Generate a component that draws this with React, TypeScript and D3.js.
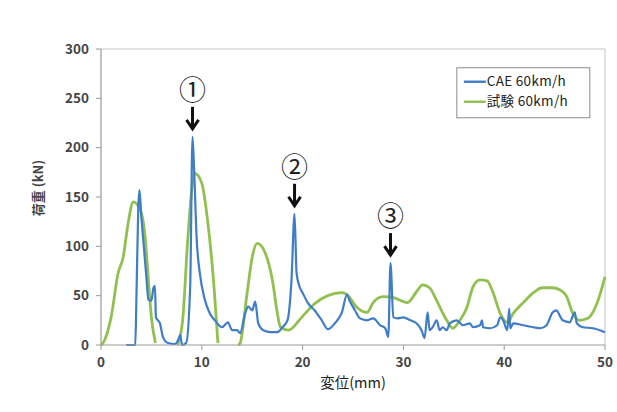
import React from "react";
import * as d3 from "d3";

// CAE 60km/h (blue)
const caeDisp = [2.5, 3.4, 3.5, 3.7, 3.82, 4.0, 4.2, 4.5, 4.7, 5.0, 5.2, 5.35, 5.45, 5.85, 6.15, 6.65, 7.35, 7.65, 7.85, 8.05, 8.45, 8.85, 9.08, 9.25, 9.5, 9.8, 10.3, 10.8, 11.3, 12.0, 12.6, 13.0, 13.5, 13.8, 14.3, 14.6, 15.0, 15.3, 15.6, 16.1, 16.8, 17.5, 18.0, 18.5, 18.9, 19.2, 19.4, 19.7, 20.0, 20.5, 21.2, 21.9, 22.5, 23.2, 23.9, 24.4, 24.7, 25.2, 25.7, 26.4, 27.0, 27.7, 28.2, 28.5, 28.72, 29.0, 29.4, 30.0, 30.7, 31.3, 31.8, 32.1, 32.4, 32.6, 32.9, 33.3, 33.6, 33.9, 34.3, 34.6, 35.3, 35.9, 36.6, 36.9, 37.6, 37.8, 37.9, 38.6, 39.3, 39.6, 39.9, 40.3, 40.5, 40.6, 40.9, 41.9, 42.9, 43.6, 44.2, 44.8, 45.2, 45.5, 45.8, 46.5, 47.0, 47.2, 47.8, 48.8, 50.0];
const caeLoad = [0, 0, 40, 140, 157, 130, 106, 69, 46, 45, 58, 60, 28, 22, 8, 2, 1, 5, 10, 0, 2, 60, 211, 174, 106, 73, 46, 32, 25, 18, 23, 15, 15, 12, 32, 39, 35, 44, 22, 15, 13, 13, 18, 25, 66, 133, 73, 59, 53, 43, 35, 25, 16, 22, 33, 51, 44, 35, 27, 25, 27, 20, 17, 8, 83, 28, 27, 28, 25, 22, 15, 7, 33, 15, 18, 25, 15, 18, 15, 22, 25, 20, 22, 18, 20, 25, 18, 17, 20, 28, 25, 15, 37, 17, 22, 20, 18, 17, 20, 33, 35, 30, 25, 23, 33, 22, 18, 17, 13];

// 試験 60km/h (green), null where the curve leaves the plot below zero
const testDisp = [0, 0.2, 1.0, 1.7, 2.2, 2.7, 3.2, 3.9, 4.4, 4.7, 5.0, 5.4, 6.5, 7.6, 8.1, 8.6, 9.0, 9.3, 10.0, 10.6, 11.1, 11.6, 12.6, 13.6, 13.8, 14.5, 15.0, 15.5, 16.3, 17.0, 17.5, 17.8, 18.6, 19.9, 21.2, 22.5, 23.9, 24.4, 25.4, 26.4, 27.0, 28.0, 29.0, 30.4, 31.3, 31.9, 32.6, 33.3, 34.3, 34.9, 35.6, 36.3, 36.9, 37.6, 38.3, 38.9, 39.6, 40.3, 40.9, 41.9, 42.9, 43.8, 44.8, 45.5, 46.2, 46.8, 47.5, 48.3, 49.2, 50.0];
const testLoad = [0, 2, 28, 73, 89, 124, 145, 137, 107, 66, 28, 2, null, 0, 25, 106, 157, 174, 164, 124, 73, 2, null, 0, 2, 53, 89, 103, 93, 66, 32, 18, 15, 28, 42, 50, 53, 51, 38, 33, 43, 49, 48, 43, 54, 61, 58, 45, 25, 17, 25, 38, 59, 66, 65, 53, 32, 23, 32, 43, 53, 58, 58, 56, 49, 32, 25, 27, 42, 69];

const xTicks = [0, 10, 20, 30, 40, 50];
const yTicks = [0, 50, 100, 150, 200, 250, 300];

const marks = [
  { label: "①", x: 9.08, v: 211 },
  { label: "②", x: 19.2, v: 133 },
  { label: "③", x: 28.72, v: 83 },
];

const legendItems = [
  { name: "CAE 60km/h", color: "#3f7dc8" },
  { name: "試験 60km/h", color: "#92c050" },
];

type Pt = { x: number; v: number | null };

export default function App() {
  const W = 617, H = 412;
  const m = { top: 49, right: 12, bottom: 67, left: 101 };
  const iw = W - m.left - m.right;
  const ih = H - m.top - m.bottom;

  const x = d3.scaleLinear().domain([0, 50]).range([0, iw]);
  const y = d3.scaleLinear().domain([0, 300]).range([ih, 0]);

  const cae: Pt[] = caeDisp.map((d, i) => ({ x: d, v: caeLoad[i] }));
  const test: Pt[] = testDisp.map((d, i) => ({ x: d, v: testLoad[i] }));

  const line = d3.line<Pt>()
    .defined((d) => d.v !== null)
    .x((d) => x(d.x))
    .y((d) => y(d.v as number))
    .curve(d3.curveMonotoneX);

  const font = "'Noto Sans CJK JP', 'Liberation Sans', sans-serif";

  return (
    <svg width={W} height={H} style={{ position: "absolute", left: 0, top: 0, background: "#fff" }} fontFamily={font}>
      <g transform={`translate(${m.left},${m.top})`}>
        {/* frame */}
        <line x1={0} x2={iw} y1={0} y2={0} stroke="#c4c4c4" strokeWidth={1} />
        <line x1={iw} x2={iw} y1={0} y2={ih} stroke="#c4c4c4" strokeWidth={1} />
        <line x1={0} x2={0} y1={0} y2={ih} stroke="#999" strokeWidth={1.2} />

        {/* y axis */}
        {yTicks.map((t) => (
          <g key={t} transform={`translate(0,${y(t)})`}>
            <line x1={-5} x2={0} stroke="#999" />
            <text x={-12} dy="0.35em" textAnchor="end" fontSize={13.5} fontWeight={700} fill="#444">{t}</text>
          </g>
        ))}

        {/* x axis ticks */}
        {xTicks.map((t) => (
          <g key={t} transform={`translate(${x(t)},${ih})`}>
            <line y1={0} y2={5} stroke="#999" />
            <text y={22} textAnchor="middle" fontSize={13.5} fontWeight={700} fill="#444">{t}</text>
          </g>
        ))}

        <path d={line(test) ?? ""} fill="none" stroke="#92c050" strokeWidth={2.8} strokeLinejoin="round" />
        <path d={line(cae) ?? ""} fill="none" stroke="#3f7dc8" strokeWidth={2.2} strokeLinejoin="round" />

        <line x1={0} x2={iw} y1={ih} y2={ih} stroke="#999" strokeWidth={1.2} />

        {/* annotations */}
        {marks.map((mk) => {
          const px = x(mk.x);
          const tip = y(mk.v) - 8;
          const tail = tip - 22;
          return (
            <g key={mk.label}>
              <text x={px} y={tail - 7} textAnchor="middle" fontSize={27} fill="#222">{mk.label}</text>
              <line x1={px} x2={px} y1={tail} y2={tip - 2} stroke="#111" strokeWidth={3} />
              <polyline points={`${px - 6},${tip - 9} ${px},${tip} ${px + 6},${tip - 9}`} fill="none" stroke="#111" strokeWidth={3} />
            </g>
          );
        })}

        {/* legend */}
        <g transform={`translate(${x(35.3)},${y(281)})`}>
          <rect width={133} height={50} fill="#fff" stroke="#8a8a8a" strokeWidth={1} />
          {legendItems.map((it, i) => (
            <g key={it.name} transform={`translate(0,${14 + i * 20})`}>
              <line x1={7} x2={29} stroke={it.color} strokeWidth={2.4} />
              <text x={30} dy="0.35em" fontSize={13.5} fill="#222" letterSpacing={0.3}>{it.name}</text>
            </g>
          ))}
        </g>
      </g>

      {/* axis titles */}
      <text x={m.left + iw / 2} y={388} textAnchor="middle" fontSize={14.5} fill="#222">変位(mm)</text>
      <text transform={`translate(38,${188}) rotate(-90)`} textAnchor="middle" dy="0.35em" fontSize={13} fontWeight={700} fill="#444">荷重 (kN)</text>
    </svg>
  );
}
